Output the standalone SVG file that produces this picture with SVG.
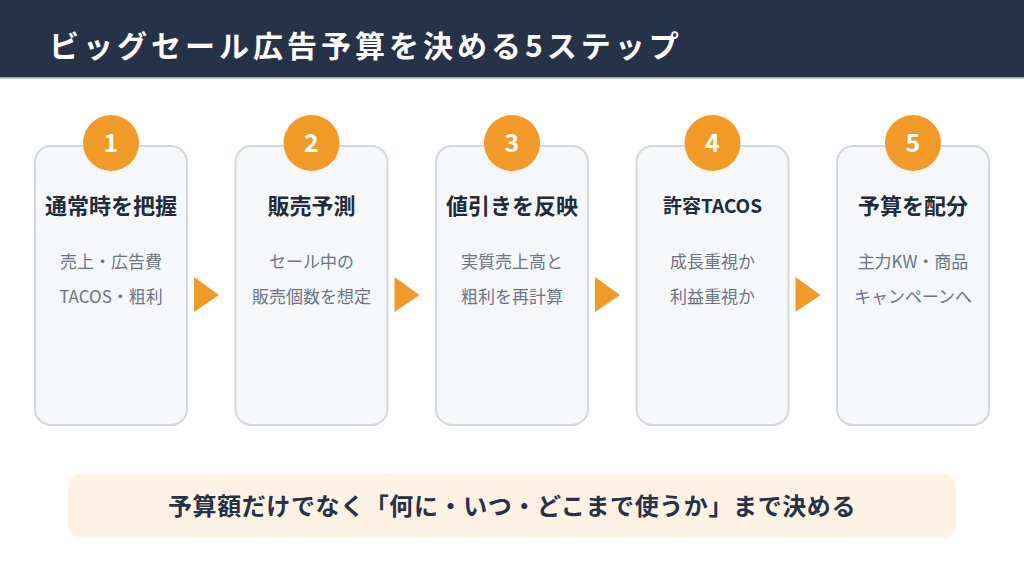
<svg xmlns="http://www.w3.org/2000/svg" width="1024" height="576" viewBox="0 0 1024 576">
  <defs>
    <style>
      .jp { font-family: "Noto Sans CJK JP", "Noto Sans", sans-serif; }
      .card { fill: #f6f7f9; stroke: #d3d8e0; stroke-width: 2; }
      .badge { fill: #f29a26; }
      .num { fill: #ffffff; font-size: 25px; font-weight: 700; text-anchor: middle; }
      .title { fill: #222b3a; font-size: 22px; font-weight: 700; text-anchor: middle; }
      .sub { fill: #6b7486; font-size: 17px; font-weight: 400; text-anchor: middle; }
      .arrow { fill: #f29a26; }
    </style>
  </defs>
  <rect x="0" y="0" width="1024" height="576" fill="#ffffff"/>
  <g id="header">
    <rect x="0" y="0" width="1024" height="78" fill="#253248"/>
    <rect x="0" y="77" width="1024" height="1.5" fill="#9aa4b3"/>
    <text class="jp" x="49" y="57" fill="#ffffff" font-size="30" font-weight="700" letter-spacing="4">ビッグセール広告予算を決める5ステップ</text>
  </g>
  <g id="connectors">
    <polygon class="arrow" points="194,277 219,295 194,312"/>
    <polygon class="arrow" points="394.5,277 419.5,295 394.5,312"/>
    <polygon class="arrow" points="595,277 620,295 595,312"/>
    <polygon class="arrow" points="795.5,277 820.5,295 795.5,312"/>
  </g>
  <g id="step1" class="jp">
    <rect class="card" x="35" y="146" width="152" height="279" rx="16"/>
    <circle class="badge" cx="111" cy="143" r="28"/>
    <text class="num" x="111" y="152">1</text>
    <text class="title" x="111" y="214">通常時を把握</text>
    <text class="sub" x="111" y="268">売上・広告費</text>
    <text class="sub" x="111" y="303">TACOS・粗利</text>
  </g>
  <g id="step2" class="jp">
    <rect class="card" x="235.5" y="146" width="152" height="279" rx="16"/>
    <circle class="badge" cx="311.5" cy="143" r="28"/>
    <text class="num" x="311.5" y="152">2</text>
    <text class="title" x="311.5" y="214">販売予測</text>
    <text class="sub" x="311.5" y="268">セール中の</text>
    <text class="sub" x="311.5" y="303">販売個数を想定</text>
  </g>
  <g id="step3" class="jp">
    <rect class="card" x="436" y="146" width="152" height="279" rx="16"/>
    <circle class="badge" cx="512" cy="143" r="28"/>
    <text class="num" x="512" y="152">3</text>
    <text class="title" x="512" y="214">値引きを反映</text>
    <text class="sub" x="512" y="268">実質売上高と</text>
    <text class="sub" x="512" y="303">粗利を再計算</text>
  </g>
  <g id="step4" class="jp">
    <rect class="card" x="636.5" y="146" width="152" height="279" rx="16"/>
    <circle class="badge" cx="712.5" cy="143" r="28"/>
    <text class="num" x="712.5" y="152">4</text>
    <text class="title" x="712.5" y="213" style="font-size:19px">許容TACOS</text>
    <text class="sub" x="712.5" y="268">成長重視か</text>
    <text class="sub" x="712.5" y="303">利益重視か</text>
  </g>
  <g id="step5" class="jp">
    <rect class="card" x="837" y="146" width="152" height="279" rx="16"/>
    <circle class="badge" cx="913" cy="143" r="28"/>
    <text class="num" x="913" y="152">5</text>
    <text class="title" x="913" y="214">予算を配分</text>
    <text class="sub" x="913" y="268">主力KW・商品</text>
    <text class="sub" x="913" y="303">キャンペーンへ</text>
  </g>
  <g id="summary" class="jp">
    <rect x="68" y="474" width="888" height="64" rx="13" fill="#fef2e4"/>
    <text x="512" y="515" fill="#253248" font-size="24" font-weight="700" letter-spacing="0.6" text-anchor="middle">予算額だけでなく「何に・いつ・どこまで使うか」まで決める</text>
  </g>
</svg>
